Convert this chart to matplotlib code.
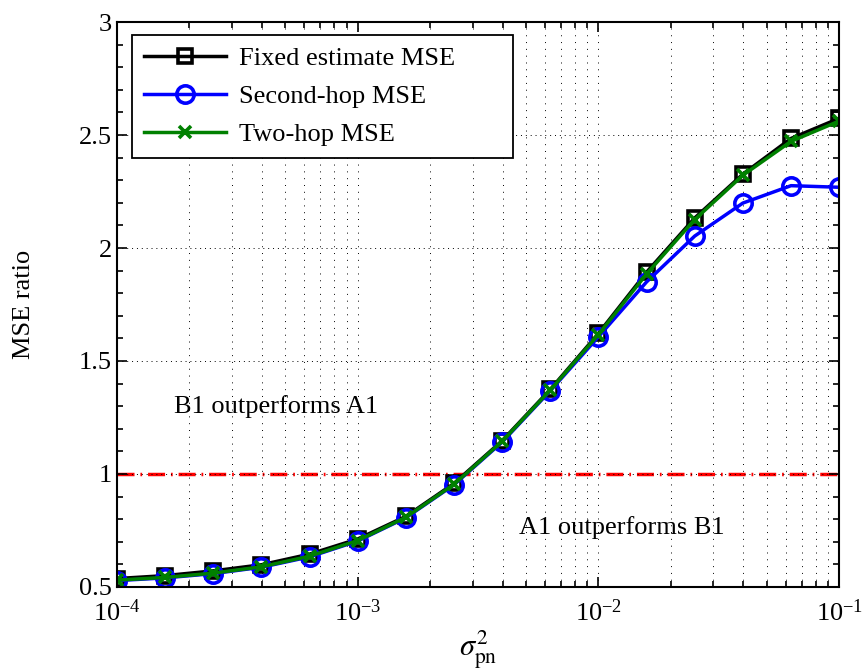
import numpy as np
import matplotlib
matplotlib.use("Agg")
import matplotlib.pyplot as plt
from matplotlib.patches import Rectangle
from matplotlib.ticker import LogLocator, MultipleLocator, NullFormatter, FuncFormatter

plt.rcParams['font.family'] = ['Liberation Serif', 'DejaVu Serif']
plt.rcParams['mathtext.fontset'] = 'stix'

# noise variance (x axis)
sigma2 = [1e-4, 1.585e-4, 2.512e-4, 3.981e-4, 6.31e-4,
          1e-3, 1.585e-3, 2.512e-3, 3.981e-3, 6.31e-3,
          1e-2, 1.585e-2, 2.512e-2, 3.981e-2, 6.31e-2, 1e-1]

# MSE ratios
fixed_mse = [0.537, 0.550, 0.571, 0.598, 0.645, 0.712, 0.812, 0.958,
             1.147, 1.374, 1.622, 1.893, 2.133, 2.327, 2.485, 2.574]
second_hop = [0.528, 0.540, 0.559, 0.587, 0.633, 0.703, 0.806, 0.952,
              1.141, 1.368, 1.607, 1.850, 2.053, 2.199, 2.276, 2.269]
two_hop = [0.530, 0.542, 0.561, 0.589, 0.636, 0.705, 0.808, 0.954,
           1.144, 1.371, 1.617, 1.885, 2.126, 2.322, 2.472, 2.562]

threshold = 1.0

fig = plt.figure(figsize=(8.66, 6.70), dpi=100)
ax = fig.add_axes([0.135, 0.124, 0.834, 0.843])

ax.plot(sigma2, fixed_mse, color='black', lw=2.5, marker='s', ms=10,
        mfc='none', mew=2.6, label='Fixed estimate MSE')
ax.plot(sigma2, second_hop, color='blue', lw=2.5, marker='o', ms=12.5,
        mfc='none', mew=2.6, label='Second-hop MSE')
ax.plot(sigma2, two_hop, color=(0, 0.5, 0), lw=2.5, marker='x', ms=9,
        mew=2.6, label='Two-hop MSE')

# MSE ratio = 1 boundary
ax.axhline(threshold, color='red', lw=2.5, ls=(0, (4.9, 1.7, 0.5, 1.7)), zorder=1)

ax.set_xscale('log')
ax.set_xlim(1e-4, 1e-1)
ax.set_ylim(0.5, 3)
ax.xaxis.set_major_locator(LogLocator(base=10, numticks=10))
ax.xaxis.set_minor_locator(LogLocator(base=10, subs=np.arange(2, 10), numticks=10))
ax.xaxis.set_minor_formatter(NullFormatter())
ax.yaxis.set_major_locator(MultipleLocator(0.5))
ax.yaxis.set_minor_locator(MultipleLocator(0.1))
ax.yaxis.set_major_formatter(FuncFormatter(lambda v, p: f'{v:g}'))

ax.grid(True, which='major', axis='y', color='black', ls=(0, (1, 4)), lw=0.7)
ax.grid(True, which='both', axis='x', color='black', ls=(0, (1, 6)), lw=0.7)

ax.tick_params(which='both', direction='in', top=True, right=True,
               labelsize=19, width=1.2)
ax.tick_params(which='major', length=7)
ax.tick_params(which='minor', length=4)
ax.tick_params(axis='x', pad=9)
for sp in ax.spines.values():
    sp.set_linewidth(1.5)

ax.set_ylabel('MSE ratio', fontsize=19, labelpad=32)
ax.set_xlabel(r'$\sigma^2_{\mathrm{pn}}$', fontsize=22, labelpad=2)

ax.text(1.72e-4, 1.3, 'B1 outperforms A1', fontsize=19, va='center')
ax.text(4.7e-3, 0.765, 'A1 outperforms B1', fontsize=19, va='center')

# legend box is wider than its contents (matlab style), so draw the frame by hand
box = Rectangle((0.0207, 0.759), 0.528, 0.218, transform=ax.transAxes,
                facecolor='white', edgecolor='black', lw=1.3, zorder=4.5)
ax.add_patch(box)
leg = ax.legend(loc='upper left', bbox_to_anchor=(0.021, 0.977), fontsize=19,
                handlelength=3.1, handletextpad=0.5, frameon=False,
                borderaxespad=0, labelspacing=0.55, borderpad=0.45)
leg.set_zorder(5)

fig.savefig('out.png', dpi=100)
